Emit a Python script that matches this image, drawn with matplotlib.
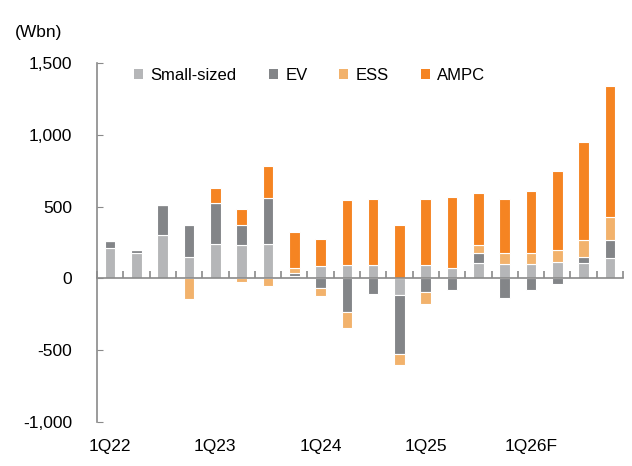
import numpy as np
import matplotlib
matplotlib.use("Agg")
import matplotlib.pyplot as plt
from matplotlib.patches import Patch
from matplotlib.transforms import blended_transform_factory

plt.rcParams['font.family'] = ['Liberation Sans Narrow', 'Liberation Sans', 'DejaVu Sans']

quarters = ['1Q22', '2Q22', '3Q22', '4Q22', '1Q23', '2Q23', '3Q23', '4Q23',
            '1Q24', '2Q24', '3Q24', '4Q24', '1Q25', '2Q25', '3Q25', '4Q25',
            '1Q26F', '2Q26F', '3Q26F', '4Q26F']
small = [210, 180, 305, 150, 237, 235, 240, 20, 85, 95, 90, -115, 95, 75, 110, 100, 103, 112, 105, 142]
ev = [52, 20, 205, 225, 290, 137, 323, 15, -65, -237, -110, -410, -95, -80, 65, -137, -80, -37, 46, 126]
ess = [0, 0, 0, -140, 0, -22, -50, 40, -55, -110, 0, -75, -85, 0, 58, 74, 76, 86, 114, 158]
ampc = [0, 0, 0, 0, 100, 112, 220, 250, 190, 450, 465, 375, 460, 495, 365, 380, 430, 549, 684, 912]
shown_labels = ['1Q22', '1Q23', '1Q24', '1Q25', '1Q26F']

series = [("Small-sized", small, "#b5b6b8"),
          ("EV", ev, "#838588"),
          ("ESS", ess, "#f2b26c"),
          ("AMPC", ampc, "#f58422")]

fig = plt.figure(figsize=(6.32, 4.66), dpi=100)
ax = fig.add_axes([97 / 632, 1 - 422 / 466, 526 / 632, 359 / 466])

x = np.arange(len(quarters))
pos_base = np.zeros(len(quarters))
neg_base = np.zeros(len(quarters))
for name, vals, col in series:
    v = np.array(vals, dtype=float)
    bottom = np.where(v >= 0, pos_base, neg_base)
    ax.bar(x, v, width=0.4, bottom=bottom, color=col, edgecolor="white", linewidth=0.8)
    pos_base += np.clip(v, 0, None)
    neg_base += np.clip(v, None, 0)

ax.set_xlim(-0.5, len(quarters) - 0.5)
ax.set_ylim(-1000, 1500)
ax.set_yticks([-1000, -500, 0, 500, 1000, 1500])
ax.set_yticklabels([f"{v:,}" for v in [-1000, -500, 0, 500, 1000, 1500]])

axis_col = "#8a8a8a"
for s in ["top", "right"]:
    ax.spines[s].set_visible(False)
ax.spines["left"].set_color(axis_col)
ax.spines["bottom"].set_color(axis_col)
ax.spines["bottom"].set_position(("data", 0))
ax.spines["left"].set_linewidth(1.2)
ax.spines["bottom"].set_linewidth(1.2)

ax.tick_params(axis="y", direction="in", length=4, color=axis_col, pad=18, labelsize=12.5)
ax.set_xticks(np.arange(-0.5, len(quarters), 1.0))
ax.set_xticklabels([])
ax.tick_params(axis="x", direction="in", length=5, color=axis_col, width=1.2)

tr = blended_transform_factory(ax.transData, ax.transAxes)
for lab in shown_labels:
    ax.text(quarters.index(lab), -0.067, lab, transform=tr, ha="center", va="center", fontsize=12.5)

fig.text(15 / 632, 1 - 33 / 466, "(Wbn)", ha="left", va="center", fontsize=12.5)

handles = [Patch(facecolor=col, edgecolor="none") for _, _, col in series]
ax.legend(handles, [n for n, _, _ in series], ncol=4, frameon=False,
          loc="center left", bbox_to_anchor=(0.042, 0.965), fontsize=12,
          handlelength=0.55, handleheight=0.55, handletextpad=0.45, columnspacing=1.9)

fig.savefig("out.png", dpi=100)
